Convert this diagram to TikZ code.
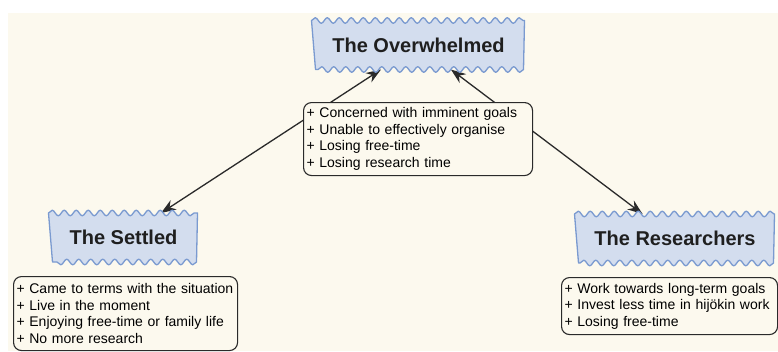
\documentclass[tikz,border=0pt]{standalone}
\usepackage{fontspec}
\setmainfont{Liberation Sans}
\usetikzlibrary{arrows.meta,decorations.pathmorphing}
\definecolor{cream}{HTML}{FCF9EE}
\definecolor{wavefill}{HTML}{D3DDEE}
\definecolor{wavedraw}{HTML}{7A9AD0}
\definecolor{ink}{HTML}{2A2A2A}
\tikzset{
  titlenode/.style={minimum height=44pt, inner sep=0pt, outer sep=2.5pt,
    font=\fontsize{20}{24}\selectfont\bfseries, text=black!88},
  wavy/.style={decoration={snake, amplitude=2.8pt, segment length=12pt}},
  infobox/.style={draw=ink, line width=1.1pt, rounded corners=8pt, fill=cream,
    align=left, inner xsep=3pt, inner ysep=3pt, anchor=north west,
    font=\fontsize{14}{16.6}\selectfont, text=black},
  link/.style={draw=ink, line width=1.3pt, {Stealth[length=15pt,width=11pt]}-{Stealth[length=15pt,width=11pt]}}
}
\newcommand{\wavebox}[1]{%
  \draw[fill=wavefill, draw=wavedraw, line width=1.3pt, wavy, line join=round]
    ([xshift=-2pt]#1.north west) decorate{-- ([xshift=1pt]#1.north east)} -- (#1.south east)
    decorate{-- ([xshift=2pt]#1.south west)} -- cycle;}
\begin{document}
\begin{tikzpicture}[x=1pt,y=-1pt]
\useasboundingbox (0,0) rectangle (778,351);
\fill[white] (0,0) rectangle (778,351);
\fill[cream] (8,13) rectangle (778,351);

\node[titlenode, minimum width=205pt] (over) at (418.5,45) {};
\node[titlenode, minimum width=141pt] (settled) at (123.5,237.5) {};
\node[titlenode, minimum width=192pt] (res) at (675,238.5) {};

\draw[link] (settled) -- (over);
\draw[link] (res) -- (over);

\wavebox{over}
\wavebox{settled}
\wavebox{res}
\node[titlenode] (overT) at (over) {The Overwhelmed};
\node[titlenode] (settledT) at (settled) {The Settled};
\node[titlenode] (resT) at (res) {The Researchers};

\node[infobox, text width=223pt, minimum height=73pt] (mid) at (303,102)
  {+ Concerned with imminent goals\\+ Unable to effectively organise\\+ Losing free-time\\+ Losing research time};
\node[infobox, text width=218pt, minimum height=74pt] (settledbox) at (13,276)
  {+ Came to terms with the situation\\+ Live in the moment\\+ Enjoying free-time or family life\\+ No more research};
\node[infobox, text width=210pt, minimum height=57pt] (resbox) at (561,277)
  {+ Work towards long-term goals\\+ Invest less time in hijökin work\\+ Losing free-time};
\end{tikzpicture}
\end{document}
